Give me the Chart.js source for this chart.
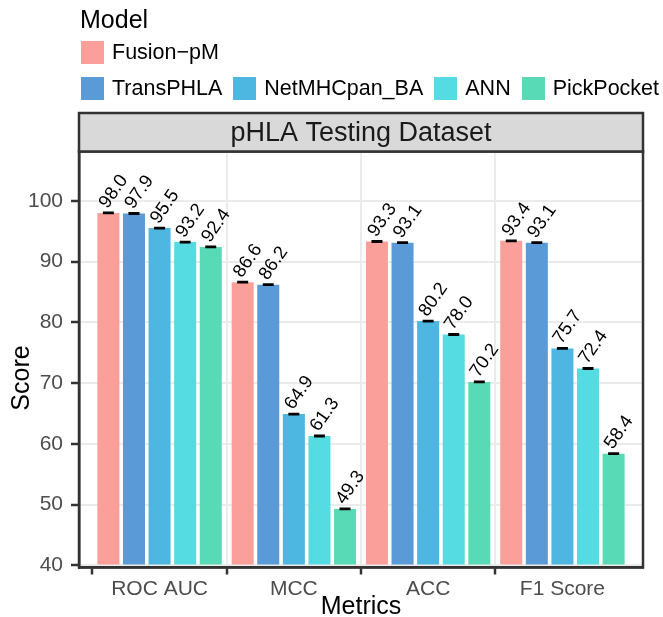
<!DOCTYPE html>
<html>
<head>
<meta charset="utf-8">
<script src="https://cdn.jsdelivr.net/npm/chart.js@4.4.1/dist/chart.umd.min.js"></script>
<style>
  html, body { margin: 0; padding: 0; background: #ffffff; }
  #wrap { position: relative; width: 663px; height: 617px; overflow: hidden; font-family: "Liberation Sans", Arial, Helvetica, sans-serif; }
  #chart { position: absolute; left: 0; top: 0; }
  #legend { position: absolute; left: 80px; top: 4px; width: 620px; color: #000; }
  #legend .title { font-size: 25px; line-height: 30px; height: 30px; }
  #legend .row { display: flex; align-items: center; height: 23px; margin-top: 0; white-space: nowrap; }
  #legend .item { display: flex; align-items: center; margin-right: 10px; flex: none; }
  #legend .sw { width: 23px; height: 23px; margin-left: 1px; margin-right: 8px; }
  #legend .lab { font-size: 21.5px; line-height: 23px; white-space: nowrap; }
</style>
</head>
<body>
<div id="wrap">
  <canvas id="chart" width="663" height="617"></canvas>
  <div id="legend"></div>
</div>
<script>
// ---- data ----
const categories = ["ROC AUC", "MCC", "ACC", "F1 Score"];
const models = ["Fusion\u2212pM", "TransPHLA", "NetMHCpan_BA", "ANN", "PickPocket"];
const fusionPM   = [98.0, 86.6, 93.3, 93.4];
const transPHLA  = [97.9, 86.2, 93.1, 93.1];
const netMHCpan  = [95.5, 64.9, 80.2, 75.7];
const annModel   = [93.2, 61.3, 78.0, 72.4];
const pickPocket = [92.4, 49.3, 70.2, 58.4];
const errFusion  = [0.1, 0.1, 0.1, 0.1];
const errTrans   = [0.1, 0.1, 0.1, 0.1];
const errNet     = [0.1, 0.1, 0.1, 0.1];
const errAnn     = [0.1, 0.1, 0.1, 0.1];
const errPick    = [0.1, 0.1, 0.1, 0.1];
const yTicks = [40, 50, 60, 70, 80, 90, 100];
const panelTitle = "pHLA Testing Dataset";
const legendTitle = "Model";
const yTitle = "Score";
const xTitle = "Metrics";

const seriesValues = [fusionPM, transPHLA, netMHCpan, annModel, pickPocket];
const seriesErrors = [errFusion, errTrans, errNet, errAnn, errPick];
const colors = ["#FA9F99", "#5A9AD6", "#4DB6E1", "#55DCE3", "#59DAB6"];

// ---- HTML legend ----
const leg = document.getElementById('legend');
const t = document.createElement('div'); t.className = 'title'; t.textContent = legendTitle; leg.appendChild(t);
const rows = [[0], [1, 2, 3, 4]];
rows.forEach((r, ri) => {
  const row = document.createElement('div'); row.className = 'row';
  row.style.marginTop = ri === 0 ? '7px' : '13px';
  r.forEach(i => {
    const it = document.createElement('div'); it.className = 'item';
    const sw = document.createElement('div'); sw.className = 'sw'; sw.style.background = colors[i];
    const lb = document.createElement('div'); lb.className = 'lab'; lb.textContent = models[i];
    it.appendChild(sw); it.appendChild(lb); row.appendChild(it);
  });
  leg.appendChild(row);
});

// ---- plugins ----
const panelPlugin = {
  id: 'panel',
  afterDatasetsDraw(chart) {
    const {ctx, chartArea: a} = chart;
    ctx.save();
    chart.data.datasets.forEach((ds, di) => {
      const meta = chart.getDatasetMeta(di);
      const yScale = chart.scales.y;
      meta.data.forEach((bar, i) => {
        const v = seriesValues[di][i], e = seriesErrors[di][i];
        const y1 = yScale.getPixelForValue(v + e), y2 = yScale.getPixelForValue(v - e);
        ctx.strokeStyle = '#000'; ctx.lineWidth = 1.6;
        ctx.beginPath();
        ctx.moveTo(bar.x - 5.5, y1); ctx.lineTo(bar.x + 5.5, y1);
        ctx.moveTo(bar.x - 5.5, y2); ctx.lineTo(bar.x + 5.5, y2);
        ctx.moveTo(bar.x, y1); ctx.lineTo(bar.x, y2);
        ctx.stroke();
        ctx.save();
        ctx.translate(bar.x - 5, y1 - 6);
        ctx.rotate(-55 * Math.PI / 180);
        ctx.fillStyle = '#000';
        ctx.font = '18.5px "Liberation Sans", Arial, sans-serif';
        ctx.textAlign = 'left'; ctx.textBaseline = 'middle';
        ctx.fillText(v.toFixed(1), 0, 0);
        ctx.restore();
      });
    });
    ctx.strokeStyle = '#333333'; ctx.lineWidth = 2.5;
    ctx.strokeRect(a.left, a.top, a.right - a.left, a.bottom - a.top);
    const sTop = 113;
    ctx.fillStyle = '#D9D9D9';
    ctx.fillRect(a.left, sTop, a.right - a.left, a.top - sTop);
    ctx.strokeRect(a.left, sTop, a.right - a.left, a.top - sTop);
    ctx.fillStyle = '#1A1A1A';
    ctx.font = '27px "Liberation Sans", Arial, sans-serif';
    ctx.textAlign = 'center'; ctx.textBaseline = 'middle';
    ctx.fillText(panelTitle, (a.left + a.right) / 2, (sTop + a.top) / 2 + 1);
    ctx.save();
    ctx.translate(22, 378);
    ctx.rotate(-Math.PI / 2);
    ctx.fillStyle = '#000';
    ctx.font = '25px "Liberation Sans", Arial, sans-serif';
    ctx.textAlign = 'center'; ctx.textBaseline = 'middle';
    ctx.fillText(yTitle, 0, 0);
    ctx.restore();
    ctx.restore();
  }
};

const datasets = models.map((m, i) => ({
  label: m,
  data: seriesValues[i].map((v, k) => ({x: k, y: v})),
  backgroundColor: colors[i],
  borderWidth: 0,
  base: 40,
  categoryPercentage: 0.953,
  barPercentage: 0.86
}));

new Chart(document.getElementById('chart'), {
  type: 'bar',
  data: { datasets },
  plugins: [panelPlugin],
  options: {
    responsive: false,
    animation: false,
    devicePixelRatio: 1,
    layout: { padding: { top: 151.5, right: 20, left: 0, bottom: 0 } },
    plugins: { legend: { display: false }, tooltip: { enabled: false } },
    scales: {
      x: {
        type: 'linear',
        offset: false,
        min: -0.6, max: 3.6,
        afterBuildTicks: (s) => { s.ticks = categories.map((c, i) => ({ value: i })); },
        afterFit: (s) => { s.height = 49.5; },
        ticks: {
          callback: (v) => categories[v] !== undefined ? categories[v] : '',
          color: '#4D4D4D',
          font: { family: '"Liberation Sans", Arial, sans-serif', size: 21 },
          padding: 2,
          maxRotation: 0, autoSkip: false
        },
        grid: {
          offset: true,
          color: (c) => (c.index >= 1 && c.index <= 3) ? '#EBEBEB' : 'rgba(0,0,0,0)',
          lineWidth: 2,
          tickColor: (c) => (c.index >= 0 && c.index <= 3) ? '#333333' : 'rgba(0,0,0,0)',
          tickLength: 7,
          tickWidth: 2.5
        },
        border: { display: true, color: '#333333', width: 2.5 },
        title: {
          display: true, text: xTitle, color: '#000',
          font: { family: '"Liberation Sans", Arial, sans-serif', size: 25, lineHeight: 0.8 },
          padding: { top: 0, bottom: 0 }
        }
      },
      y: {
        min: 39.67, max: 108.1,
        afterBuildTicks: (s) => { s.ticks = yTicks.map(v => ({ value: v })); },
        afterFit: (s) => { s.width = 79; },
        ticks: {
          color: '#4D4D4D',
          font: { family: '"Liberation Sans", Arial, sans-serif', size: 21 },
          padding: 8
        },
        grid: {
          color: '#EBEBEB', lineWidth: 2,
          tickColor: '#333333', tickLength: 8, tickWidth: 2.5
        },
        border: { display: true, color: '#333333', width: 2.5 },
        title: { display: false }
      }
    }
  }
});
</script>
</body>
</html>
